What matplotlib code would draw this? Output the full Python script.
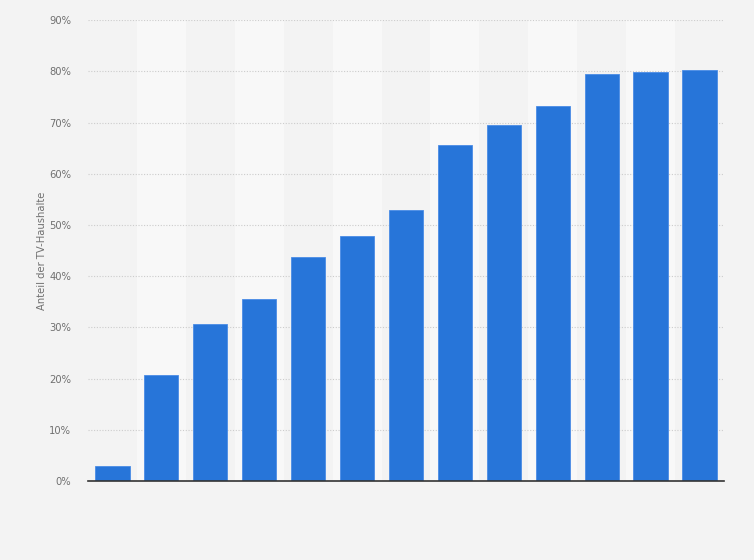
import matplotlib.pyplot as plt
from matplotlib.ticker import FuncFormatter

BACKGROUND = "#f3f3f3"
STRIPE = "#f8f8f8"
BAR_COLOR = "#2775d9"
TICK_INK = "#707070"
GRID_COLOR = "#cccccc"

# share of TV households per period (x labels are not shown in the reference)
values = [3.0, 20.7, 30.7, 35.5, 43.7, 47.9, 52.9, 65.6, 69.5, 73.2, 79.5, 79.9, 80.3]
y_ticks = [0, 10, 20, 30, 40, 50, 60, 70, 80, 90]
y_label = "Anteil der TV-Haushalte"


def main():
    fig = plt.figure(figsize=(7.54, 5.6), dpi=100, facecolor=BACKGROUND)
    ax = fig.add_axes([0.1167, 0.141, 0.8435, 0.823])
    ax.set_facecolor(BACKGROUND)

    positions = list(range(len(values)))
    for i in positions:
        if i % 2 == 1:
            ax.axvspan(i - 0.5, i + 0.5, color=STRIPE, zorder=0, linewidth=0)

    ax.bar(positions, values, width=0.7, color=BAR_COLOR,
           edgecolor="#4a8ce6", linewidth=0.6, zorder=3)

    ax.set_xlim(-0.5, len(values) - 0.5)
    ax.set_ylim(0, 90)
    ax.set_yticks(y_ticks)
    ax.yaxis.set_major_formatter(FuncFormatter(lambda v, _: f"{v:.0f}%"))
    ax.set_xticks([])

    ax.yaxis.grid(True, color=GRID_COLOR, linestyle=(0, (1, 1.5)), linewidth=0.8, zorder=1)
    ax.set_axisbelow(True)

    for side in ("top", "right", "left"):
        ax.spines[side].set_visible(False)
    ax.spines["bottom"].set_color("#333333")
    ax.spines["bottom"].set_linewidth(1.2)
    ax.spines["bottom"].set_zorder(4)

    ax.tick_params(axis="y", length=0, pad=12, labelsize=7.2, labelcolor=TICK_INK)
    ax.set_ylabel(y_label, color=TICK_INK, fontsize=7.2, labelpad=2)

    fig.savefig("out.png", dpi=100, facecolor=BACKGROUND)
    plt.close(fig)


if __name__ == "__main__":
    main()
